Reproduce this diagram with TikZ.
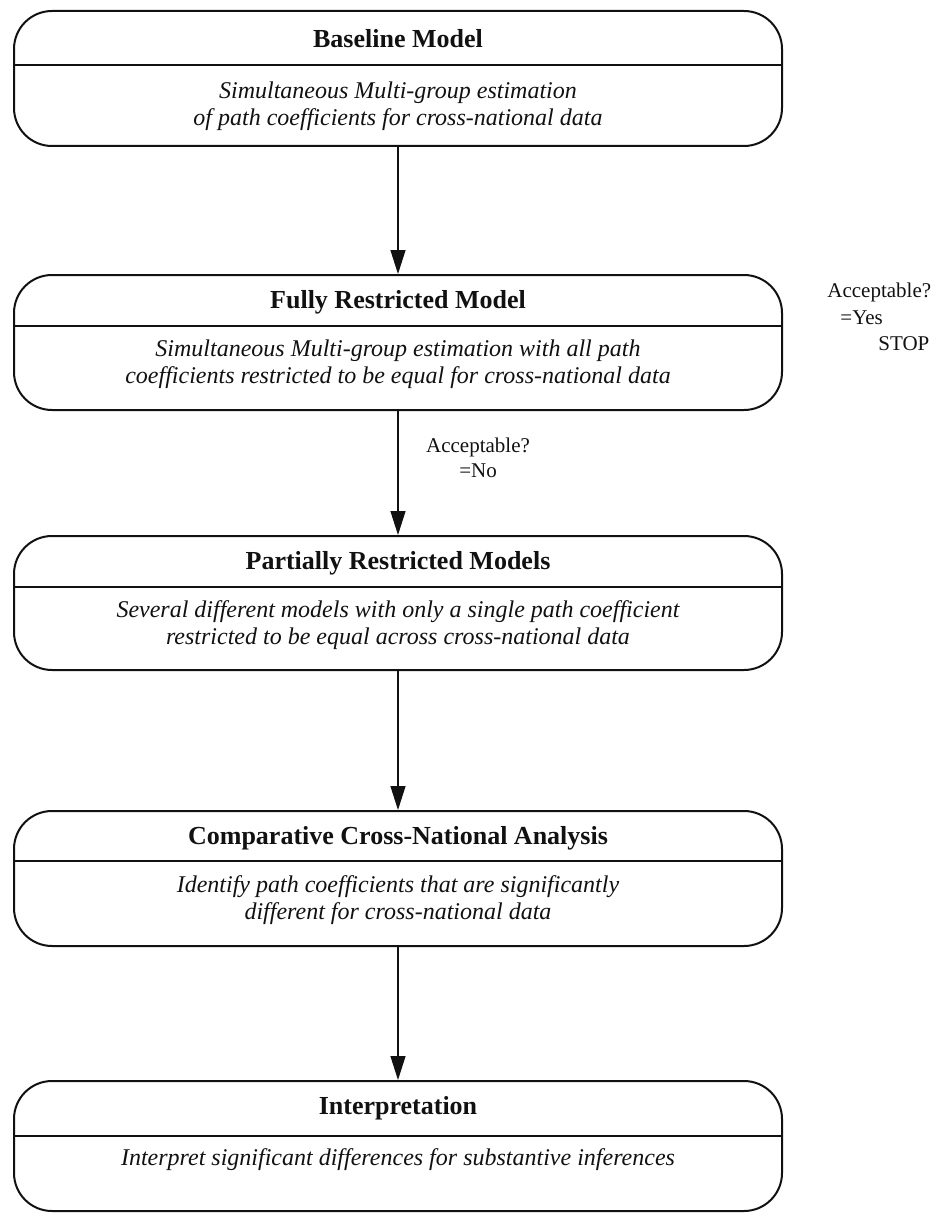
\documentclass[tikz,border=0pt]{standalone}
\usepackage{fontspec}
\setmainfont{Liberation Serif}
\usetikzlibrary{arrows.meta,positioning}
\definecolor{inkblack}{HTML}{111111}
% one stage of the procedure: name, top, bottom, divider, title y, body y, title, body
% (all in pixels of the picture frame)
\newcommand{\stagebox}[8]{%
  \node[stage,minimum height={(#3-#2)*0.5pt}] (#1) at (398,{(#2+#3)/2}) {};
  \draw[divider] (#1.west |- 0,#4) -- (#1.east |- 0,#4);
  \node[stagetitle] (#1-title) at (398,#5) {#7};
  \node[stagebody] (#1-body) at (398,#6) {#8};}

\begin{document}
\begin{tikzpicture}[x=0.5pt,y=-0.5pt,inkblack,
    stage/.style={draw,line width=1pt,rounded corners=19pt,minimum width=384pt,inner sep=0pt},
    divider/.style={line width=0.7pt},
    stagetitle/.style={font=\fontsize{13}{15}\selectfont\bfseries},
    stagebody/.style={font=\fontsize{12}{13.5}\selectfont\itshape,align=center},
    note/.style={font=\fontsize{10.5}{12.5}\selectfont,inner sep=0pt},
    flow/.style={line width=0.7pt,-{Triangle[length=12pt,width=7.5pt]}}]
  \useasboundingbox (0,0) rectangle (948,1214);

  \stagebox{base}{11}{146}{65}{39}{106}{Baseline Model}
    {Simultaneous Multi-group estimation\\ of path coefficients for cross-national data}
  \stagebox{full}{275}{410}{326}{302}{364}{Fully Restricted Model}
    {Simultaneous Multi-group estimation with all path\\ coefficients restricted to be equal for cross-national data}
  \stagebox{part}{536}{670}{587}{563}{625}{Partially Restricted Models}
    {Several different models with only a single path coefficient\\ restricted to be equal across cross-national data}
  \stagebox{comp}{811}{946}{861}{838}{900}{Comparative Cross-National Analysis}
    {Identify path coefficients that are significantly\\ different for cross-national data}
  \stagebox{interp}{1081}{1211}{1136}{1108}{1160}{Interpretation}
    {Interpret significant differences for substantive inferences}

  % flow from stage to stage
  \draw[flow] (base) -- (full);
  \draw[flow] (full) -- (part);
  \draw[flow] (part) -- (comp);
  \draw[flow] (comp) -- (interp);

  % test outcomes
  \node[note,align=center] (nolabel) at (478,458) {Acceptable?\\=No};
  \node[note,anchor=west] (yesq) at (827,292) {Acceptable?};
  \node[note,anchor=west] (yesans) at (840,318) {=Yes};
  \node[note,anchor=west] (stop) at (878,344) {STOP};
\end{tikzpicture}
\end{document}
